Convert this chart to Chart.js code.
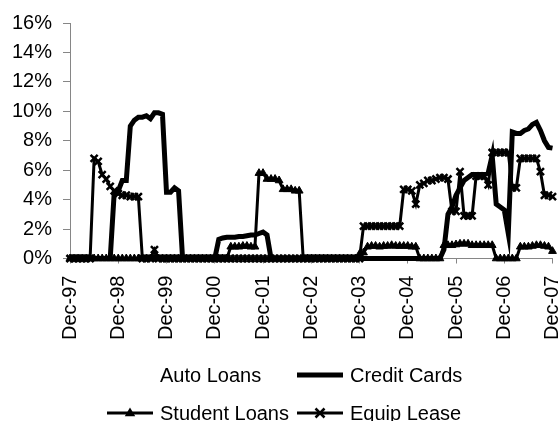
<!DOCTYPE html>
<html>
<head>
<meta charset="utf-8">
<script src="https://cdn.jsdelivr.net/npm/chart.js@4.4.1/dist/chart.umd.min.js"></script>
<style>
  body { margin: 0; background: #fff; }
  #wrap { width: 560px; height: 421px; }
</style>
</head>
<body>
<div id="wrap"><canvas id="chart" width="560" height="421"></canvas></div>
<script>
// monthly, Dec-97 .. Dec-07
const monthNames = ['Jan','Feb','Mar','Apr','May','Jun','Jul','Aug','Sep','Oct','Nov','Dec'];
const years = ['97','98','99','00','01','02','03','04','05','06','07'];
let months = ['Dec-97'];
for (let y = 1; y < years.length; y++) {
    for (let m = 0; m < 12; m++) months.push(monthNames[m] + '-' + years[y]);
}

const seriesNames = ['Auto Loans', 'Credit Cards', 'Student Loans', 'Equip Lease'];
const yTicks = [0, 2, 4, 6, 8, 10, 12, 14, 16];

// percent values, one row per 12 months
const autoLoans = [];
const creditCards = [
    0,0,0,0,0,0,0,0,0,0,0,4.5,
    4.6,5.3,5.3,9.0,9.4,9.6,9.6,9.7,9.5,9.9,9.9,9.8,
    4.5,4.5,4.8,4.6,0,0,0,0,0,0,0,0,
    0,1.3,1.4,1.45,1.45,1.45,1.5,1.5,1.55,1.6,1.6,1.7,
    1.8,1.6,0,0,0,0,0,0,0,0,0,0,
    0,0,0,0,0,0,0,0,0,0,0,0,
    0,0,0,0,0,0,0,0,0,0,0,0,
    0,0,0,0,0,0,0,0,0,0.6,3.0,3.5,
    4.3,4.8,5.3,5.5,5.7,5.7,5.7,5.7,5.8,7.0,3.7,3.5,
    3.3,1.7,8.6,8.5,8.5,8.7,8.8,9.1,9.25,8.7,8.0,7.55,
    7.5
];
const studentLoans = [
    0,0,0,0,0,0,0,0,0,0,0,0,
    0,0,0,0,0,0,0,0,0,0,0,0,
    0,0,0,0,0,0,0,0,0,0,0,0,
    0,0,0,0,0.8,0.8,0.8,0.85,0.85,0.8,0.8,5.8,
    5.8,5.4,5.4,5.4,5.3,4.7,4.7,4.7,4.6,4.6,0,0,
    0,0,0,0,0,0,0,0,0,0,0,0,
    0.3,0.4,0.8,0.85,0.85,0.8,0.85,0.85,0.9,0.85,0.85,0.85,
    0.85,0.8,0.8,0,0,0,0,0,0,0.9,0.9,0.9,
    0.95,1.0,1.0,1.0,0.9,0.9,0.9,0.9,0.9,0.9,0,0,
    0,0,0,0,0.8,0.8,0.8,0.85,0.9,0.9,0.85,0.8,
    0.5
];
const equipLease = [
    0,0,0,0,0,0,6.8,6.6,5.7,5.4,4.9,4.6,
    4.4,4.3,4.3,4.2,4.2,4.2,0,0,0,0.6,0,0,
    0,0,0,0,0,0,0,0,0,0,0,0,
    0,0,0,0,0,0,0,0,0,0,0,0,
    0,0,0,0,0,0,0,0,0,0,0,0,
    0,0,0,0,0,0,0,0,0,0,0,0,
    0,2.2,2.2,2.2,2.2,2.2,2.2,2.2,2.2,2.2,2.2,4.7,
    4.7,4.6,3.7,5.0,5.1,5.3,5.3,5.4,5.5,5.5,5.4,3.2,
    3.2,5.9,2.9,2.9,2.9,5.6,5.6,5.6,5.0,7.2,7.2,7.2,
    7.2,7.2,4.8,4.8,6.8,6.8,6.8,6.8,6.8,5.9,4.3,4.3,
    4.2
];

const FONT = '"Liberation Sans", Arial, sans-serif';
const AXIS_GREY = '#868686';

// legend drawn by hand so the two columns line up like the original
const legendBox = {
    id: 'legendBox',
    afterDraw(chart) {
        const ctx = chart.ctx;
        const spots = [[107, 375], [297, 375], [107, 413], [297, 413]];
        ctx.save();
        chart.data.datasets.forEach((ds, i) => {
            let x = spots[i][0], y = spots[i][1];
            if (ds.showInLegendLine !== false) {
                ctx.strokeStyle = '#000';
                ctx.lineWidth = ds.borderWidth;
                ctx.beginPath();
                ctx.moveTo(x, y);
                ctx.lineTo(x + 46, y);
                ctx.stroke();
                let cx = x + 23;
                if (ds.pointStyle === 'triangle') {
                    let r = 5.5;
                    ctx.fillStyle = '#000';
                    ctx.beginPath();
                    ctx.moveTo(cx, y - r);
                    ctx.lineTo(cx + r * 0.95, y + r * 0.6);
                    ctx.lineTo(cx - r * 0.95, y + r * 0.6);
                    ctx.closePath();
                    ctx.fill();
                } else if (ds.pointStyle === 'crossRot') {
                    let r = 4.5;
                    ctx.lineWidth = 2.5;
                    ctx.beginPath();
                    ctx.moveTo(cx - r, y - r); ctx.lineTo(cx + r, y + r);
                    ctx.moveTo(cx + r, y - r); ctx.lineTo(cx - r, y + r);
                    ctx.stroke();
                }
            }
            ctx.fillStyle = '#000';
            ctx.font = '20px ' + FONT;
            ctx.textBaseline = 'middle';
            ctx.textAlign = 'left';
            ctx.fillText(ds.label, x + 53, y + 1);
        });
        ctx.restore();
    }
};

new Chart(document.getElementById('chart'), {
    type: 'line',
    data: {
        labels: months,
        datasets: [
            {
                label: seriesNames[0], data: autoLoans, order: 4,
                borderColor: 'transparent', borderWidth: 0, pointRadius: 0, showInLegendLine: false
            },
            {
                label: seriesNames[1], data: creditCards, order: 3, clip: 8,
                borderColor: '#000', borderWidth: 5, pointRadius: 0, tension: 0
            },
            {
                label: seriesNames[2], data: studentLoans, order: 2, clip: 8,
                borderColor: '#000', borderWidth: 3, tension: 0,
                pointStyle: 'triangle', pointRadius: 4.5,
                pointBackgroundColor: '#000', pointBorderColor: '#000', pointBorderWidth: 1
            },
            {
                label: seriesNames[3], data: equipLease, order: 1, clip: 8,
                borderColor: '#000', borderWidth: 3, tension: 0,
                pointStyle: 'crossRot', pointRadius: 5,
                pointBorderColor: '#000', pointBorderWidth: 2.5
            }
        ]
    },
    options: {
        responsive: false,
        animation: false,
        events: [],
        layout: { padding: { left: 12, top: 12, right: 4, bottom: 69 } },
        plugins: {
            legend: { display: false },
            tooltip: { enabled: false }
        },
        scales: {
            x: {
                type: 'category',
                offset: false,
                afterFit: function(scale) { scale.paddingRight = 0; scale.paddingLeft = 0; },
                border: { color: AXIS_GREY, width: 1 },
                grid: {
                    drawOnChartArea: false,
                    tickLength: 5,
                    color: function(c) { return c.index % 12 === 0 ? AXIS_GREY : 'transparent'; }
                },
                ticks: {
                    autoSkip: false,
                    maxRotation: 90,
                    minRotation: 90,
                    padding: 12,
                    color: '#000',
                    font: { family: FONT, size: 20 },
                    callback: function(val, idx) { return idx % 12 === 0 ? months[idx] : ''; }
                }
            },
            y: {
                min: yTicks[0],
                max: yTicks[yTicks.length - 1],
                afterFit: function(scale) { scale.width = 58; },
                border: { color: AXIS_GREY, width: 1 },
                grid: { drawOnChartArea: false, tickLength: 7, color: AXIS_GREY },
                ticks: {
                    stepSize: 2,
                    padding: 11,
                    color: '#000',
                    font: { family: FONT, size: 20 },
                    callback: function(v) { return v + '%'; }
                }
            }
        }
    },
    plugins: [legendBox]
});
</script>
</body>
</html>
